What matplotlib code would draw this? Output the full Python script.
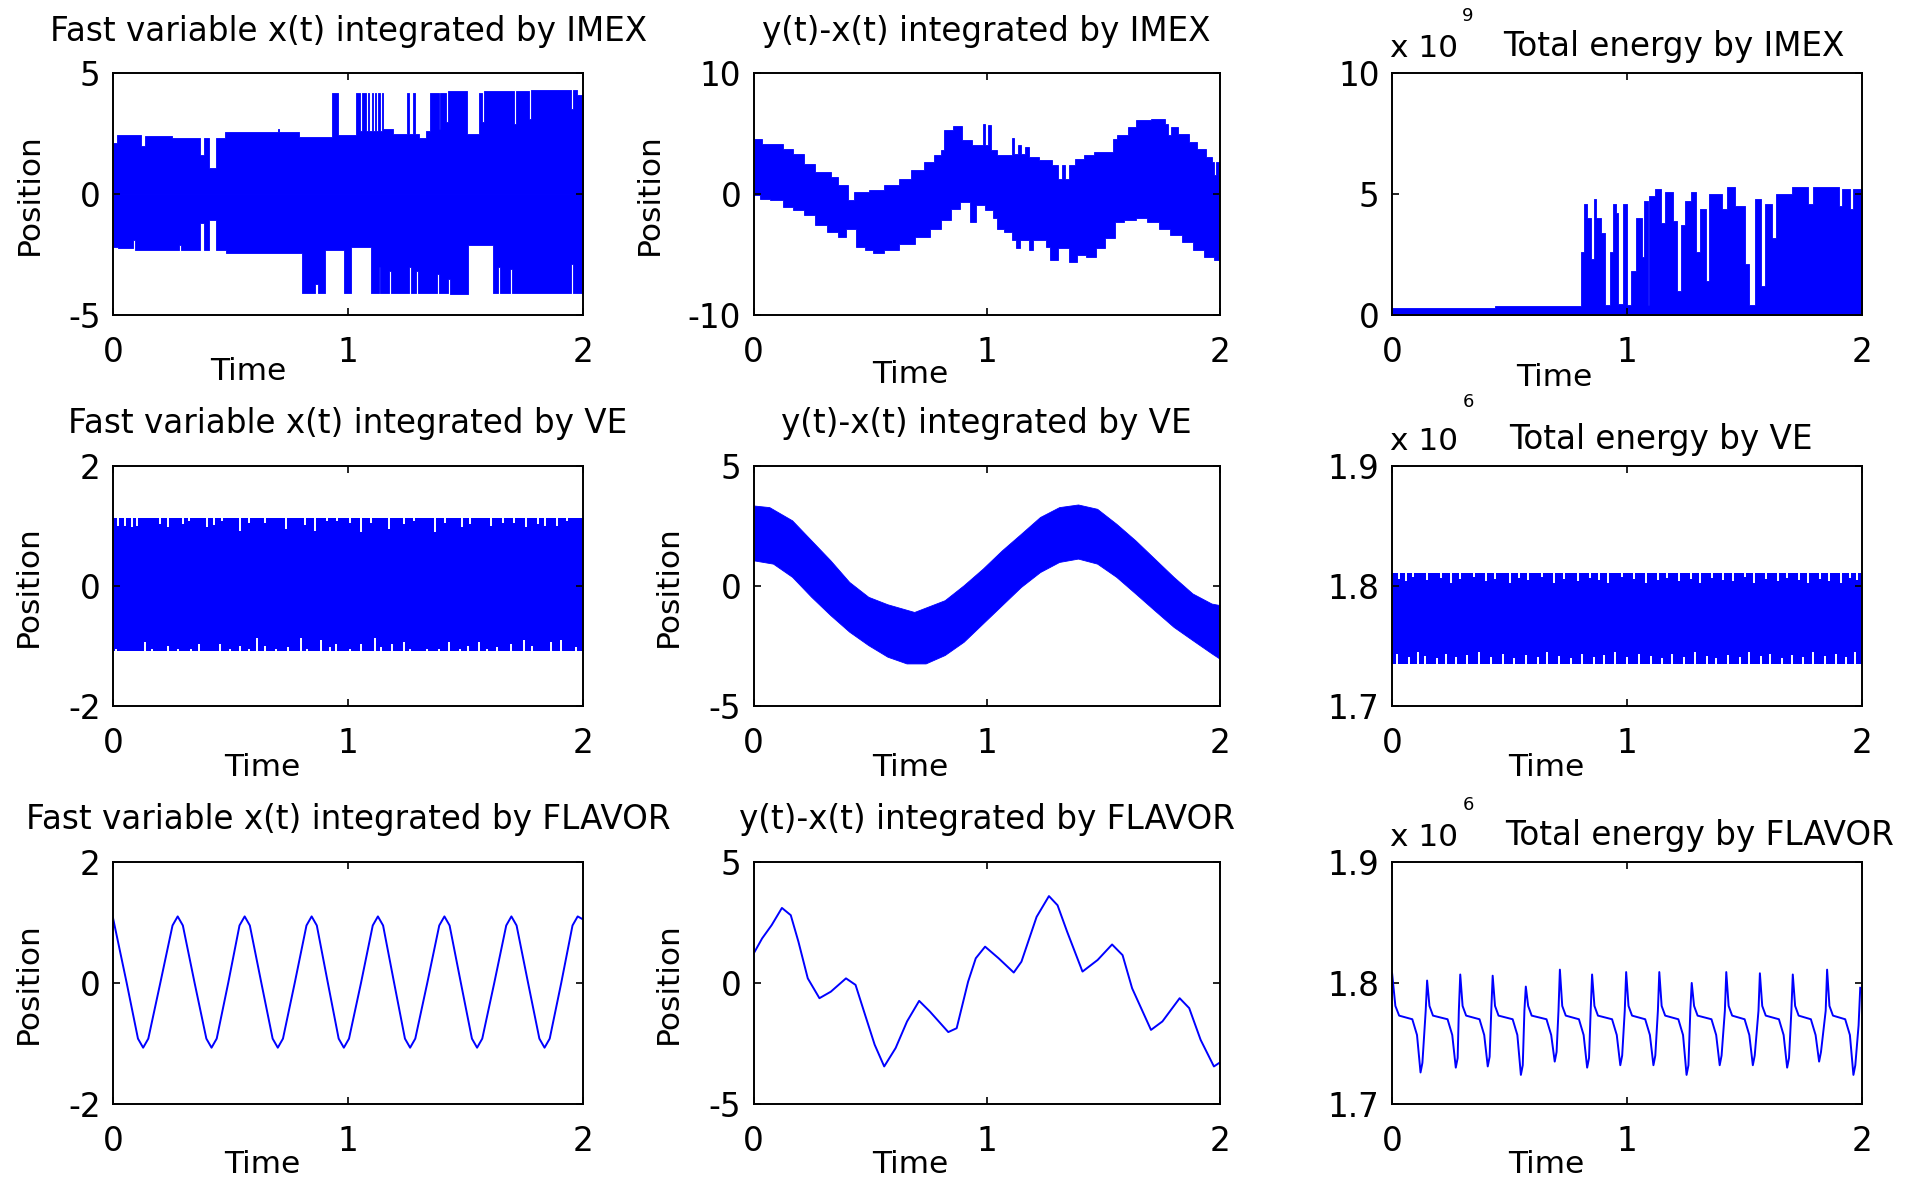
import numpy as np
import matplotlib
matplotlib.use('Agg')
import matplotlib.pyplot as plt
from matplotlib.transforms import offset_copy

plt.rcParams['font.family'] = 'DejaVu Sans'
plt.rcParams['axes.unicode_minus'] = False

BLUE = '#0000ff'
FS = 22.5      # axis labels
FS_TICK = 23.5
FS_TITLE = 23.5

# ---------------- IMEX ----------------
# x(t): upper / lower envelope of the dense oscillation (step breakpoints)
imex_x_hi_t = [0.000, 0.015, 0.120, 0.135, 0.250, 0.370, 0.385, 0.410, 0.440, 0.475, 0.700, 0.708,
               0.790, 0.930, 0.956, 1.035, 1.050, 1.060, 1.075, 1.085, 1.090, 1.100, 1.105, 1.115,
               1.120, 1.128, 1.135, 1.145, 1.150, 1.190, 1.250, 1.258, 1.278, 1.285, 1.300, 1.330,
               1.350, 1.385, 1.392, 1.418, 1.425, 1.505, 1.555, 1.570, 1.578, 1.708, 1.715, 1.770,
               1.777, 1.948, 1.956, 1.975, 2.000]
imex_x_hi = [2.10, 2.45, 2.00, 2.40, 2.30, 1.60, 2.30, 1.07, 2.30, 2.55, 2.68, 2.55,
             2.35, 4.20, 2.45, 4.20, 2.60, 4.20, 2.60, 4.20, 2.60, 4.20, 2.60, 4.20,
             2.60, 4.20, 2.60, 4.20, 2.70, 2.50, 4.20, 2.50, 4.20, 2.50, 2.30, 2.60,
             4.20, 2.70, 4.20, 3.00, 4.25, 2.50, 4.20, 3.00, 4.25, 2.90, 4.25, 3.10,
             4.30, 3.50, 4.30, 4.10, 4.10]
imex_x_lo_t = [0.000, 0.020, 0.085, 0.095, 0.280, 0.290, 0.370, 0.385, 0.410, 0.440, 0.480, 0.806,
               0.860, 0.870, 0.903, 0.982, 1.014, 1.097, 1.130, 1.137, 1.175, 1.182, 1.260, 1.267,
               1.290, 1.297, 1.380, 1.387, 1.425, 1.432, 1.510, 1.618, 1.640, 1.647, 1.690, 1.697,
               1.950, 1.958, 2.000]
imex_x_lo = [-2.20, -2.25, -1.90, -2.30, -2.10, -2.30, -1.20, -2.30, -1.07, -2.30, -2.45, -4.10,
             -3.70, -4.10, -2.30, -4.10, -2.20, -4.10, -3.00, -4.10, -3.20, -4.10, -3.00, -4.10,
             -3.20, -4.10, -3.30, -4.10, -3.50, -4.15, -2.10, -4.10, -3.00, -4.10, -3.10, -4.10,
             -2.90, -4.10, -4.10]

# y(t)-x(t)
imex_yx_hi_t = [0.000, 0.036, 0.126, 0.167, 0.216, 0.265, 0.331, 0.363, 0.404, 0.432, 0.494, 0.560,
                0.625, 0.674, 0.732, 0.772, 0.805, 0.817, 0.854, 0.895, 0.936, 0.982, 0.993, 1.005,
                1.018, 1.043, 1.108, 1.119, 1.133, 1.149, 1.165, 1.182, 1.223, 1.280, 1.304, 1.321,
                1.337, 1.354, 1.378, 1.419, 1.460, 1.542, 1.558, 1.607, 1.640, 1.705, 1.763, 1.779,
                1.790, 1.820, 1.869, 1.902, 1.943, 1.967, 1.976, 1.984, 2.000]
imex_yx_hi = [4.58, 4.17, 3.76, 3.34, 2.52, 1.83, 1.42, 0.73, -0.51, 0.18, 0.32, 0.78,
              1.28, 1.97, 2.65, 3.20, 3.62, 5.27, 5.63, 4.44, 4.09, 5.82, 4.03, 5.68,
              3.62, 3.20, 4.64, 3.34, 4.03, 3.34, 3.89, 3.07, 2.79, 2.38, 1.28, 2.38,
              1.28, 2.38, 2.93, 3.20, 3.48, 4.58, 4.86, 5.54, 6.09, 6.23, 5.82, 4.86,
              5.54, 4.99, 4.31, 3.76, 3.07, 2.65, 1.55, 2.65, 2.65]
imex_yx_lo_t = [0.000, 0.028, 0.069, 0.126, 0.167, 0.216, 0.265, 0.314, 0.363, 0.396, 0.437, 0.478,
                0.511, 0.560, 0.625, 0.691, 0.756, 0.805, 0.846, 0.887, 0.928, 0.953, 0.993, 1.026,
                1.043, 1.075, 1.108, 1.124, 1.141, 1.182, 1.198, 1.255, 1.272, 1.304, 1.354, 1.386,
                1.427, 1.468, 1.509, 1.550, 1.591, 1.640, 1.689, 1.738, 1.787, 1.836, 1.885, 1.934,
                1.976, 2.000]
imex_yx_lo = [-0.10, -0.37, -0.51, -1.06, -1.33, -1.75, -2.57, -3.12, -3.53, -2.85, -4.36, -4.63,
              -4.90, -4.63, -4.09, -3.53, -2.85, -2.16, -1.20, -0.65, -2.30, -0.92, -1.33, -2.02,
              -2.85, -3.12, -3.81, -4.50, -3.81, -4.63, -3.81, -4.36, -5.46, -4.50, -5.60, -5.05,
              -5.19, -4.50, -3.67, -2.30, -2.16, -2.02, -2.30, -2.85, -3.40, -3.95, -4.63, -5.19,
              -5.46, -5.46]

# total energy (x 1e9), upper envelope
imex_en_t = [0.000, 0.440, 0.805, 0.818, 0.830, 0.846, 0.858, 0.868, 0.891, 0.905, 0.929, 0.941,
             0.951, 0.963, 0.984, 1.001, 1.017, 1.037, 1.062, 1.074, 1.087, 1.095, 1.120, 1.145,
             1.162, 1.195, 1.212, 1.228, 1.245, 1.270, 1.295, 1.311, 1.336, 1.349, 1.402, 1.427,
             1.461, 1.502, 1.519, 1.544, 1.568, 1.585, 1.618, 1.635, 1.701, 1.768, 1.790, 1.900,
             1.915, 1.950, 1.962, 2.000]
imex_en = [0.28, 0.38, 2.6, 4.6, 4.0, 2.3, 4.8, 4.0, 3.4, 0.4, 2.6, 4.6,
           4.2, 0.45, 4.6, 0.4, 1.8, 4.0, 2.4, 4.7, 0.4, 4.9, 5.2, 3.8,
           5.1, 3.9, 1.0, 3.7, 4.7, 5.1, 2.6, 4.4, 1.4, 5.0, 4.4, 5.3,
           4.5, 2.1, 0.4, 4.8, 1.2, 4.6, 3.2, 5.0, 5.3, 4.6, 5.3, 4.5,
           5.2, 4.4, 5.2, 5.2]

# ---------------- VE ----------------
ve_x_hi, ve_x_lo = 1.13, -1.08
ve_x_top_notch_t = [0.023, 0.049, 0.081, 0.102, 0.199, 0.234, 0.296, 0.322, 0.401, 0.428, 0.463, 0.542,
                    0.577, 0.648, 0.736, 0.815, 0.859, 0.912, 0.951, 1.009, 1.053, 1.097, 1.176, 1.238,
                    1.282, 1.370, 1.414, 1.484, 1.519, 1.607, 1.660, 1.704, 1.757, 1.810, 1.836, 1.889,
                    1.933]
ve_x_top_notch = [1.00, 1.00, 0.98, 1.00, 1.04, 0.98, 1.03, 1.09, 0.98, 1.02, 1.09, 0.92,
                  1.06, 1.06, 0.95, 1.02, 0.92, 1.08, 1.09, 1.06, 0.91, 1.06, 0.95, 1.03,
                  1.09, 0.91, 1.06, 0.98, 1.03, 1.00, 1.06, 1.06, 0.98, 1.03, 1.00, 1.00,
                  1.09]
ve_x_bot_notch_t = [0.014, 0.137, 0.164, 0.234, 0.278, 0.331, 0.366, 0.454, 0.498, 0.542, 0.577, 0.613,
                    0.648, 0.692, 0.745, 0.798, 0.824, 0.886, 0.921, 0.947, 1.009, 1.053, 1.114, 1.141,
                    1.185, 1.238, 1.264, 1.335, 1.387, 1.431, 1.475, 1.511, 1.555, 1.590, 1.634, 1.695,
                    1.748, 1.783, 1.863, 1.907, 1.968]
ve_x_bot_notch = [-1.04, -0.93, -1.04, -0.99, -1.04, -1.04, -0.96, -0.96, -1.04, -0.99, -1.04, -0.86,
                  -0.99, -1.04, -1.01, -0.86, -1.04, -0.90, -1.01, -0.96, -1.04, -0.96, -0.86, -1.01,
                  -0.96, -0.93, -1.04, -1.04, -1.04, -0.93, -1.04, -0.99, -0.93, -1.04, -1.01, -0.96,
                  -0.90, -0.99, -0.93, -0.90, -1.01]

ve_yx_hi_t = [0.000, 0.069, 0.167, 0.249, 0.331, 0.412, 0.494, 0.576, 0.691, 0.822, 0.903, 0.985,
              1.067, 1.149, 1.231, 1.313, 1.394, 1.476, 1.558, 1.640, 1.722, 1.804, 1.885, 1.967, 2.000]
ve_yx_hi = [3.34, 3.27, 2.72, 1.89, 1.06, 0.16, -0.46, -0.77, -1.09, -0.60, 0.02, 0.71,
            1.47, 2.16, 2.86, 3.27, 3.38, 3.20, 2.58, 1.89, 1.13, 0.37, -0.32, -0.74, -0.80]
ve_yx_lo_t = [0.000, 0.085, 0.167, 0.249, 0.331, 0.412, 0.494, 0.576, 0.658, 0.740, 0.822, 0.903,
              0.985, 1.067, 1.149, 1.231, 1.313, 1.394, 1.476, 1.558, 1.640, 1.722, 1.804, 1.885,
              1.967, 2.000]
ve_yx_lo = [1.06, 0.92, 0.37, -0.46, -1.22, -1.91, -2.47, -2.95, -3.23, -3.23, -2.88, -2.33,
            -1.57, -0.81, -0.05, 0.57, 0.99, 1.13, 0.92, 0.37, -0.32, -1.02, -1.71, -2.26,
            -2.81, -3.02]

# total energy (x 1e6)
ve_en_hi, ve_en_lo = 1.8113, 1.7353
ve_en_top_notch_t = [0.03, 0.06, 0.09, 0.15, 0.21, 0.25, 0.29, 0.35, 0.40, 0.44, 0.50, 0.54, 0.58,
                     0.64, 0.69, 0.73, 0.79, 0.84, 0.88, 0.92, 0.98, 1.03, 1.08, 1.13, 1.17, 1.22,
                     1.27, 1.31, 1.36, 1.41, 1.45, 1.50, 1.54, 1.59, 1.64, 1.68, 1.73, 1.77, 1.82,
                     1.86, 1.91, 1.95, 1.98]
ve_en_top_notch = [1.806, 1.804, 1.808, 1.805, 1.807, 1.803, 1.806, 1.808, 1.804, 1.806, 1.803, 1.807,
                   1.805, 1.808, 1.803, 1.806, 1.804, 1.807, 1.805, 1.803, 1.808, 1.806, 1.803, 1.805,
                   1.807, 1.804, 1.806, 1.803, 1.807, 1.805, 1.804, 1.808, 1.803, 1.806, 1.804, 1.807,
                   1.805, 1.803, 1.806, 1.804, 1.803, 1.807, 1.805]
ve_en_bot_notch_t = [0.02, 0.07, 0.11, 0.14, 0.19, 0.23, 0.27, 0.32, 0.37, 0.42, 0.47, 0.52, 0.57,
                     0.62, 0.66, 0.71, 0.76, 0.81, 0.86, 0.90, 0.95, 1.00, 1.05, 1.10, 1.15, 1.19,
                     1.24, 1.29, 1.34, 1.38, 1.43, 1.48, 1.52, 1.57, 1.61, 1.66, 1.70, 1.75, 1.79,
                     1.84, 1.89, 1.93, 1.97]
ve_en_bot_notch = [1.744, 1.741, 1.745, 1.742, 1.740, 1.744, 1.741, 1.743, 1.745, 1.741, 1.744, 1.740,
                   1.743, 1.741, 1.745, 1.742, 1.740, 1.744, 1.741, 1.743, 1.745, 1.741, 1.744, 1.742,
                   1.740, 1.744, 1.741, 1.745, 1.742, 1.740, 1.743, 1.741, 1.745, 1.742, 1.744, 1.740,
                   1.743, 1.741, 1.745, 1.742, 1.744, 1.741, 1.745]

# ---------------- FLAVOR ----------------
fl_x_t = [0.000,
          0.058, 0.106, 0.128, 0.150, 0.201, 0.253, 0.275, 0.297,
          0.347, 0.397, 0.419, 0.441, 0.490, 0.538, 0.560, 0.582,
          0.631, 0.679, 0.701, 0.723, 0.773, 0.823, 0.845, 0.867,
          0.914, 0.960, 0.982, 1.004, 1.055, 1.105, 1.127, 1.149,
          1.196, 1.242, 1.264, 1.286, 1.337, 1.388, 1.410, 1.432,
          1.480, 1.527, 1.549, 1.571, 1.622, 1.673, 1.695, 1.717,
          1.766, 1.814, 1.836, 1.858, 1.907, 1.955, 1.977, 2.000]
fl_x = [1.07,
        0.0, -0.92, -1.07, -0.92, 0.0, 0.95, 1.10, 0.95,
        0.0, -0.92, -1.07, -0.92, 0.0, 0.95, 1.10, 0.95,
        0.0, -0.92, -1.07, -0.92, 0.0, 0.95, 1.10, 0.95,
        0.0, -0.92, -1.07, -0.92, 0.0, 0.95, 1.10, 0.95,
        0.0, -0.92, -1.07, -0.92, 0.0, 0.95, 1.10, 0.95,
        0.0, -0.92, -1.07, -0.92, 0.0, 0.95, 1.10, 0.95,
        0.0, -0.92, -1.07, -0.92, 0.0, 0.95, 1.10, 1.05]

fl_yx_t = [0.000, 0.036, 0.077, 0.121, 0.159, 0.192, 0.232, 0.282, 0.331, 0.396, 0.437, 0.478,
           0.519, 0.560, 0.609, 0.658, 0.710, 0.756, 0.835, 0.871, 0.920, 0.953, 0.993, 1.051,
           1.116, 1.149, 1.214, 1.267, 1.304, 1.345, 1.411, 1.476, 1.538, 1.583, 1.624, 1.705,
           1.754, 1.828, 1.869, 1.918, 1.975, 1.997]
fl_yx = [1.22, 1.84, 2.39, 3.10, 2.80, 1.70, 0.19, -0.63, -0.36, 0.19, -0.08, -1.32,
         -2.55, -3.45, -2.69, -1.59, -0.74, -1.18, -2.03, -1.87, 0.05, 1.02, 1.50, 1.02,
         0.43, 0.88, 2.73, 3.59, 3.21, 2.12, 0.47, 0.95, 1.59, 1.15, -0.22, -1.94,
         -1.59, -0.63, -1.04, -2.35, -3.45, -3.31]

fl_en_t = [0.000, 0.014, 0.030, 0.086, 0.106, 0.121, 0.129, 0.143,
           0.149, 0.159, 0.174, 0.236, 0.256, 0.271, 0.279, 0.284,
           0.290, 0.300, 0.315, 0.372, 0.392, 0.407, 0.415, 0.422,
           0.428, 0.438, 0.453, 0.513, 0.533, 0.548, 0.556, 0.563,
           0.569, 0.579, 0.594, 0.657, 0.677, 0.692, 0.700, 0.708,
           0.714, 0.724, 0.739, 0.795, 0.815, 0.830, 0.838, 0.845,
           0.851, 0.861, 0.876, 0.936, 0.956, 0.971, 0.979, 0.990,
           0.996, 1.006, 1.021, 1.077, 1.097, 1.112, 1.120, 1.131,
           1.137, 1.147, 1.162, 1.218, 1.238, 1.253, 1.261, 1.269,
           1.275, 1.285, 1.300, 1.359, 1.379, 1.394, 1.402, 1.416,
           1.422, 1.432, 1.447, 1.500, 1.520, 1.535, 1.543, 1.559,
           1.565, 1.575, 1.590, 1.646, 1.666, 1.681, 1.689, 1.699,
           1.705, 1.715, 1.730, 1.782, 1.802, 1.817, 1.825, 1.845,
           1.851, 1.861, 1.876, 1.928, 1.948, 1.963, 1.971, 1.985, 1.992]
fl_en = [1.808, 1.781, 1.773, 1.770, 1.757, 1.726, 1.734, 1.777,
         1.802, 1.781, 1.773, 1.770, 1.757, 1.730, 1.738, 1.777,
         1.807, 1.781, 1.773, 1.770, 1.757, 1.731, 1.739, 1.777,
         1.806, 1.781, 1.773, 1.770, 1.757, 1.724, 1.732, 1.777,
         1.797, 1.781, 1.773, 1.770, 1.757, 1.735, 1.743, 1.777,
         1.811, 1.781, 1.773, 1.770, 1.757, 1.730, 1.738, 1.777,
         1.807, 1.781, 1.773, 1.770, 1.757, 1.732, 1.740, 1.777,
         1.809, 1.781, 1.773, 1.770, 1.757, 1.732, 1.740, 1.777,
         1.809, 1.781, 1.773, 1.770, 1.757, 1.724, 1.732, 1.777,
         1.800, 1.781, 1.773, 1.770, 1.757, 1.732, 1.740, 1.777,
         1.809, 1.781, 1.773, 1.770, 1.757, 1.732, 1.740, 1.777,
         1.808, 1.781, 1.773, 1.770, 1.757, 1.730, 1.738, 1.777,
         1.807, 1.781, 1.773, 1.770, 1.757, 1.735, 1.743, 1.777,
         1.811, 1.781, 1.773, 1.770, 1.757, 1.724, 1.732, 1.765, 1.796]


def steps(t, v):
    t = np.asarray(t, float)
    v = np.asarray(v, float)
    return np.repeat(t, 2)[1:], np.repeat(v, 2)[:-1]


def band(ax, hi_t, hi, lo_t, lo, stepped=True):
    if stepped:
        xh, yh = steps(hi_t, hi)
        xl, yl = steps(lo_t, lo)
    else:
        xh, yh = np.asarray(hi_t), np.asarray(hi)
        xl, yl = np.asarray(lo_t), np.asarray(lo)
    ax.fill(np.r_[xh, xl[::-1]], np.r_[yh, yl[::-1]], color=BLUE, lw=0.6, ec=BLUE)


def style(ax, ylim, yticks, ytl, tx, ty, ylab_x=None):
    ax.set_xlim(0, 2)
    ax.set_ylim(*ylim)
    ax.set_xticks([0, 1, 2])
    ax.set_xticklabels(['0', '1', '2'])
    ax.set_yticks(yticks)
    ax.set_yticklabels(ytl)
    ax.tick_params(direction='in', top=True, right=True, length=5, width=1.2, labelsize=FS_TICK)
    ax.tick_params(axis='x', pad=15)
    ax.tick_params(axis='y', pad=9)
    for s in ax.spines.values():
        s.set_linewidth(1.4)
    ax.set_xlabel('Time', fontsize=FS, va='center')
    ax.xaxis.set_label_coords(tx, ty)
    if ylab_x is not None:
        ax.set_ylabel('Position', fontsize=FS, va='center')
        ax.yaxis.set_label_coords(ylab_x, 0.5)


def energy_header(ax, exp, title, tx, ey):
    base = lambda dx, dy: offset_copy(ax.transAxes, fig=fig, x=dx, y=dy, units='dots')
    ax.text(0, 1, 'x 10', transform=base(-2, 16), ha='left', va='baseline', fontsize=FS)
    ax.text(0, 1, exp, transform=base(76, ey), ha='center', va='center', fontsize=13)
    ax.text(0, 1, title, transform=base(tx, 17), ha='left', va='baseline', fontsize=FS_TITLE)


fig = plt.figure(figsize=(19.13, 11.84), dpi=100)
lefts = [0.0591, 0.3940, 0.7277]
widths = [0.2457, 0.2436, 0.2457]
bottoms = [0.7340, 0.4033, 0.0676]
heights = [0.2042, 0.2031, 0.2044]
axs = [[fig.add_axes([lefts[c], bottoms[r], widths[c], heights[r]]) for c in range(3)] for r in range(3)]
TPAD = 23.5

# row 1: IMEX
ax = axs[0][0]
xh, yh = steps(imex_x_hi_t, imex_x_hi)
xl, yl = steps(imex_x_lo_t, imex_x_lo)
ax.fill_between(xh, 0, yh, color=BLUE, lw=0.6, ec=BLUE)
ax.fill_between(xl, yl, 0, color=BLUE, lw=0.6, ec=BLUE)
style(ax, (-5, 5), [-5, 0, 5], ['-5', '0', '5'], 0.288, -0.234, -0.178)
ax.set_title('Fast variable x(t) integrated by IMEX', fontsize=FS_TITLE, pad=TPAD)

ax = axs[0][1]
band(ax, imex_yx_hi_t, imex_yx_hi, imex_yx_lo_t, imex_yx_lo)
style(ax, (-10, 10), [-10, 0, 10], ['-10', '0', '10'], 0.335, -0.248, -0.223)
ax.set_title('y(t)-x(t) integrated by IMEX', fontsize=FS_TITLE, pad=TPAD)

ax = axs[0][2]
xe, ye = steps(imex_en_t, imex_en)
ax.fill_between(xe, 0, ye, color=BLUE, lw=0.6, ec=BLUE)
style(ax, (0, 10), [0, 5, 10], ['0', '5', '10'], 0.344, -0.26)
energy_header(ax, '9', 'Total energy by IMEX', 111, 57)

# row 2: VE
ax = axs[1][0]
ax.fill_between([0, 2], ve_x_lo, ve_x_hi, color=BLUE, lw=0)
ax.vlines(ve_x_top_notch_t, ve_x_top_notch, ve_x_hi + 0.01, color='white', lw=1.4)
ax.vlines(ve_x_bot_notch_t, ve_x_lo - 0.01, ve_x_bot_notch, color='white', lw=1.4)
style(ax, (-2, 2), [-2, 0, 2], ['-2', '0', '2'], 0.317, -0.252, -0.18)
ax.set_title('Fast variable x(t) integrated by VE', fontsize=FS_TITLE, pad=TPAD)

ax = axs[1][1]
band(ax, ve_yx_hi_t, ve_yx_hi, ve_yx_lo_t, ve_yx_lo, stepped=False)
style(ax, (-5, 5), [-5, 0, 5], ['-5', '0', '5'], 0.335, -0.252, -0.1825)
ax.set_title('y(t)-x(t) integrated by VE', fontsize=FS_TITLE, pad=TPAD)

ax = axs[1][2]
ax.fill_between([0, 2], ve_en_lo, ve_en_hi, color=BLUE, lw=0)
ax.vlines(ve_en_top_notch_t, ve_en_top_notch, ve_en_hi + 0.0005, color='white', lw=1.4)
ax.vlines(ve_en_bot_notch_t, ve_en_lo - 0.0005, ve_en_bot_notch, color='white', lw=1.4)
style(ax, (1.7, 1.9), [1.7, 1.8, 1.9], ['1.7', '1.8', '1.9'], 0.328, -0.252)
energy_header(ax, '6', 'Total energy by VE', 117, 64)

# row 3: FLAVOR
ax = axs[2][0]
ax.plot(fl_x_t, fl_x, color=BLUE, lw=1.4)
style(ax, (-2, 2), [-2, 0, 2], ['-2', '0', '2'], 0.317, -0.25, -0.18)
ax.set_title('Fast variable x(t) integrated by FLAVOR', fontsize=FS_TITLE, pad=TPAD)

ax = axs[2][1]
ax.plot(fl_yx_t, fl_yx, color=BLUE, lw=1.4)
style(ax, (-5, 5), [-5, 0, 5], ['-5', '0', '5'], 0.335, -0.25, -0.1825)
ax.set_title('y(t)-x(t) integrated by FLAVOR', fontsize=FS_TITLE, pad=TPAD)

ax = axs[2][2]
ax.plot(fl_en_t, fl_en, color=BLUE, lw=1.4)
style(ax, (1.7, 1.9), [1.7, 1.8, 1.9], ['1.7', '1.8', '1.9'], 0.328, -0.25)
energy_header(ax, '6', 'Total energy by FLAVOR', 113, 57)

fig.savefig('out.png', dpi=100)
